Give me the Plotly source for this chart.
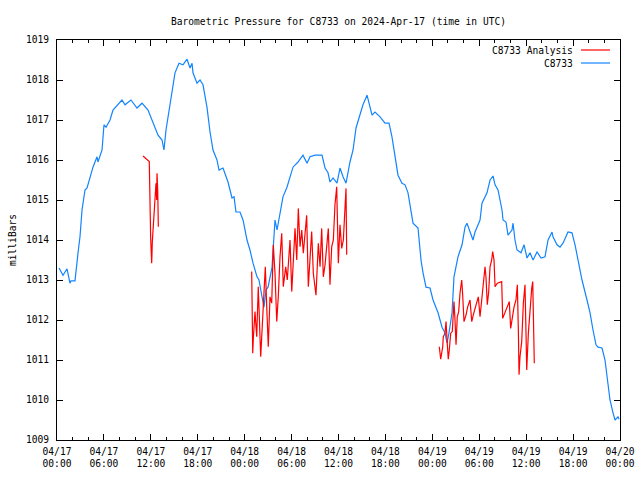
import pandas as pd
import plotly.graph_objects as go

# Hours since 2024-04-17 00:00 UTC, and pressure in millibars
blue_hours = [0.26, 0.77, 1.28, 1.66, 1.79, 2.30, 2.69, 2.94, 3.20, 3.58, 3.84, 4.22, 4.60, 5.12, 5.24, 5.76, 6.01, 6.27, 6.78, 7.16,
              7.80, 8.31, 8.70, 9.46, 10.23, 10.87, 11.64, 12.28, 12.92, 13.43, 13.68, 13.94, 14.20, 14.45, 14.71, 15.09, 15.60, 16.11, 16.63, 17.01,
              17.27, 17.39, 17.90, 18.29, 18.67, 19.18, 19.57, 19.95, 20.46, 20.72, 21.23, 21.87, 22.38, 22.64, 22.89, 23.40, 23.79, 24.30, 24.68, 25.07,
              25.58, 25.83, 26.22, 26.47, 26.73, 26.99, 27.50, 27.88, 28.14, 28.52, 28.90, 29.41, 29.80, 30.18, 30.82, 31.46, 31.97, 32.36, 33.00, 33.89,
              34.28, 34.66, 34.91, 35.30, 35.81, 36.19, 36.58, 36.96, 37.47, 37.86, 38.24, 38.49, 38.88, 39.13, 39.65, 39.90, 40.29, 40.67, 41.31, 41.95,
              42.46, 42.84, 43.23, 43.61, 44.12, 44.51, 44.89, 45.53, 46.17, 46.55, 46.81, 47.19, 47.70, 48.09, 48.73, 49.24, 49.62, 49.88, 50.13, 50.52,
              50.77, 51.28, 51.80, 52.18, 52.43, 52.82, 53.20, 53.46, 54.10, 54.35, 54.99, 55.38, 55.76, 56.02, 56.40, 56.91, 57.04, 57.42, 57.68, 58.19,
              58.32, 58.57, 58.83, 59.34, 59.73, 60.11, 60.49, 60.88, 61.39, 61.90, 62.41, 62.80, 63.31, 63.43, 63.95, 64.33, 64.71, 65.35, 65.86, 66.25,
              66.63, 67.14, 67.78, 68.17, 68.55, 68.93, 69.19, 69.70, 70.08, 70.34, 70.72, 71.11, 71.36, 71.75, 71.88]
blue_mb = [1013.30, 1013.12, 1013.28, 1012.92, 1012.98, 1012.98, 1013.68, 1014.08, 1014.75, 1015.25, 1015.30, 1015.58, 1015.82, 1016.08, 1015.95, 1016.25, 1016.88, 1016.82, 1017.00, 1017.25,
           1017.38, 1017.50, 1017.38, 1017.50, 1017.30, 1017.42, 1017.25, 1016.92, 1016.62, 1016.50, 1016.25, 1016.75, 1017.08, 1017.42, 1017.68, 1018.18, 1018.42, 1018.38, 1018.52, 1018.30,
           1018.42, 1018.18, 1017.92, 1018.00, 1017.88, 1017.32, 1016.70, 1016.25, 1016.00, 1015.75, 1015.80, 1015.45, 1015.05, 1015.08, 1014.70, 1014.70, 1014.50, 1014.00, 1013.75, 1013.42,
           1013.08, 1013.00, 1012.58, 1012.32, 1012.75, 1012.82, 1013.32, 1014.50, 1014.25, 1014.68, 1015.08, 1015.32, 1015.58, 1015.82, 1015.95, 1016.12, 1015.92, 1016.08, 1016.12, 1016.12,
           1015.80, 1015.68, 1015.45, 1015.55, 1015.42, 1015.80, 1015.58, 1015.42, 1015.95, 1016.25, 1016.80, 1016.95, 1017.18, 1017.38, 1017.62, 1017.45, 1017.12, 1017.20, 1017.08, 1016.92,
           1016.92, 1016.58, 1016.08, 1015.62, 1015.42, 1015.38, 1015.18, 1014.42, 1014.30, 1013.50, 1013.18, 1012.82, 1012.80, 1012.50, 1012.18, 1011.82, 1011.68, 1011.42, 1011.68, 1012.18,
           1013.08, 1013.58, 1013.88, 1014.32, 1014.42, 1014.20, 1014.00, 1014.20, 1014.50, 1014.92, 1015.18, 1015.50, 1015.60, 1015.38, 1015.25, 1014.75, 1014.50, 1014.45, 1014.12, 1014.25,
           1014.42, 1014.00, 1013.75, 1013.68, 1013.88, 1013.55, 1013.68, 1013.50, 1013.70, 1013.55, 1013.58, 1014.00, 1014.20, 1014.08, 1013.88, 1013.82, 1013.92, 1014.20, 1014.18, 1013.88,
           1013.50, 1013.00, 1012.50, 1012.18, 1011.75, 1011.38, 1011.32, 1011.30, 1011.00, 1010.58, 1010.00, 1009.68, 1009.50, 1009.58, 1009.52]

red_hours_1 = [11.00, 11.80, 11.98, 12.11, 12.19, 12.32, 12.44, 12.57, 12.66, 12.75, 12.79, 12.88, 12.96]
red_mb_1 = [1016.10, 1015.96, 1014.04, 1013.42, 1013.96, 1014.33, 1014.75, 1015.12, 1015.42, 1015.00, 1015.67, 1015.25, 1014.33]

red_hours_2 = [24.90, 25.03, 25.11, 25.32, 25.54, 25.74, 26.05, 26.18, 26.64, 26.82, 27.02, 27.24, 27.46, 27.66, 27.88, 28.10, 28.30, 28.52, 28.74, 28.94,
               29.25, 29.45, 29.80, 30.02, 30.22, 30.44, 30.66, 30.86, 31.08, 31.30, 31.50, 31.93, 32.14, 32.36, 32.57, 32.78, 33.12, 33.42, 33.64, 33.85,
               34.06, 34.28, 34.57, 34.70, 34.91, 35.13, 35.34, 35.55, 35.77, 35.98, 36.19, 36.41, 36.62, 36.83, 36.96, 37.05]
red_mb_2 = [1013.21, 1011.17, 1011.55, 1012.21, 1011.58, 1012.83, 1011.08, 1011.54, 1013.33, 1012.33, 1011.33, 1012.58, 1012.42, 1013.88, 1013.17, 1011.96, 1012.58, 1013.58, 1014.17, 1012.83,
            1013.33, 1013.00, 1014.00, 1012.71, 1013.58, 1014.29, 1013.50, 1014.79, 1013.83, 1014.25, 1013.67, 1014.62, 1012.83, 1013.67, 1014.21, 1013.17, 1012.62, 1013.92, 1013.33, 1014.29,
            1013.08, 1013.38, 1014.00, 1014.29, 1012.88, 1013.83, 1014.00, 1014.88, 1015.33, 1013.42, 1014.38, 1013.79, 1014.00, 1015.00, 1015.29, 1013.63]

red_hours_3 = [48.89, 49.07, 49.33, 49.40, 49.62, 49.75, 49.92, 50.04, 50.17, 50.35, 50.55, 50.77, 50.90, 51.03, 51.19, 51.37, 51.54, 51.76, 51.88, 52.05,
               52.31, 52.52, 52.82, 53.04, 53.24, 53.46, 53.68, 53.88, 54.10, 54.32, 54.52, 54.74, 54.86, 55.03, 55.21, 55.38, 55.59, 55.72, 55.89, 56.02,
               56.31, 56.87, 57.00, 57.29, 57.59, 57.84, 58.02, 58.19, 58.45, 58.70, 58.87, 59.00, 59.09, 59.21, 59.43, 59.64, 59.85, 59.98, 60.07, 60.28,
               60.49, 60.71, 60.84, 60.91, 61.04]
red_mb_3 = [1011.33, 1011.02, 1011.33, 1011.58, 1011.67, 1011.96, 1011.38, 1011.02, 1011.25, 1011.67, 1011.71, 1012.46, 1012.00, 1011.38, 1012.08, 1012.21, 1012.67, 1013.00, 1012.63, 1011.96,
            1012.13, 1012.33, 1012.50, 1011.96, 1012.13, 1012.29, 1012.42, 1012.58, 1012.08, 1012.58, 1013.04, 1013.33, 1013.08, 1012.38, 1012.71, 1013.33, 1013.50, 1013.71, 1013.50, 1012.83,
            1012.92, 1012.96, 1012.04, 1012.17, 1012.33, 1012.46, 1011.79, 1012.00, 1012.33, 1012.50, 1012.88, 1011.75, 1010.63, 1011.08, 1011.46, 1012.42, 1012.88, 1011.67, 1010.75, 1011.67,
            1012.33, 1012.79, 1012.96, 1012.46, 1010.92]

x_tick_hours = [0, 6, 12, 18, 24, 30, 36, 42, 48, 54, 60, 66, 72]
x_tick_text = ["04/17<br>00:00", "04/17<br>06:00", "04/17<br>12:00", "04/17<br>18:00",
               "04/18<br>00:00", "04/18<br>06:00", "04/18<br>12:00", "04/18<br>18:00",
               "04/19<br>00:00", "04/19<br>06:00", "04/19<br>12:00", "04/19<br>18:00", "04/20<br>00:00"]
y_ticks = [1009, 1010, 1011, 1012, 1013, 1014, 1015, 1016, 1017, 1018, 1019]

base = pd.Timestamp("2024-04-17 00:00")


def to_time(hours):
    return [None if h is None else base + pd.Timedelta(hours=h) for h in hours]


red_hours = red_hours_1 + [None] + red_hours_2 + [None] + red_hours_3
red_mb = red_mb_1 + [None] + red_mb_2 + [None] + red_mb_3

BLUE = "#1184ff"
RED = "#ff0000"
FONT = "DejaVu Sans Mono"

fig = go.Figure()
fig.add_trace(go.Scatter(x=to_time(blue_hours), y=blue_mb, mode="lines", name="C8733",
                         line=dict(color=BLUE, width=1.2)))
fig.add_trace(go.Scatter(x=to_time(red_hours), y=red_mb, mode="lines", name="C8733 Analysis",
                         line=dict(color=RED, width=1.2), connectgaps=False))

fig.update_layout(
    width=640, height=480,
    margin=dict(l=57, r=20, t=40, b=40, autoexpand=False),
    paper_bgcolor="white", plot_bgcolor="white",
    showlegend=False,
    font=dict(family=FONT, size=10, color="black"),
    title=dict(text="Barometric Pressure for C8733 on 2024-Apr-17 (time in UTC)",
               x=0.5, xref="paper", xanchor="center", y=1 - 22 / 480, yanchor="middle",
               font=dict(family=FONT, size=9.6, color="black")),
)

fig.update_xaxes(
    type="date", automargin=False,
    range=[base, base + pd.Timedelta(hours=72)],
    tickvals=to_time(x_tick_hours), ticktext=x_tick_text,
    ticks="inside", ticklen=6, tickcolor="black", tickwidth=1,
    showline=True, linecolor="black", linewidth=1, mirror="ticks",
    showgrid=False, zeroline=False, ticklabelstandoff=2,
    tickfont=dict(family=FONT, size=9.6, color="black"),
    minor=dict(dtick=2 * 3600 * 1000, ticks="inside", ticklen=3, tickcolor="black", showgrid=False),
)
fig.update_yaxes(
    range=[1009, 1019], automargin=False,
    tickvals=y_ticks, ticktext=[str(v) for v in y_ticks],
    ticks="inside", ticklen=6, tickcolor="black", tickwidth=1,
    showline=True, linecolor="black", linewidth=1, mirror="ticks",
    showgrid=False, zeroline=False, ticklabelstandoff=5,
    tickfont=dict(family=FONT, size=9.6, color="black"),
)

# y-axis title
fig.add_annotation(text="milliBars", xref="paper", yref="paper", x=(12 - 57) / 563, y=0.5,
                   textangle=-90, showarrow=False, xanchor="center", yanchor="middle",
                   font=dict(family=FONT, size=9.6, color="black"))

# gnuplot-style legend (text then line sample)
legend_items = [("C8733 Analysis", RED), ("C8733", BLUE)]
for i, (label, color) in enumerate(legend_items):
    ypx = 50 + 13 * i
    yp = 1 - (ypx - 40) / 400
    fig.add_annotation(text=label, xref="paper", yref="paper", x=(575 - 57) / 563, y=yp,
                       showarrow=False, xanchor="right", yanchor="middle",
                       font=dict(family=FONT, size=9.6, color="black"))
    fig.add_shape(type="line", xref="paper", yref="paper",
                  x0=(581 - 57) / 563, x1=(610 - 57) / 563, y0=yp, y1=yp,
                  line=dict(color=color, width=1.2))

fig.write_html("out.html", config={"displayModeBar": False},
               post_script="document.body.style.margin='0px';document.body.style.overflow='hidden';")
